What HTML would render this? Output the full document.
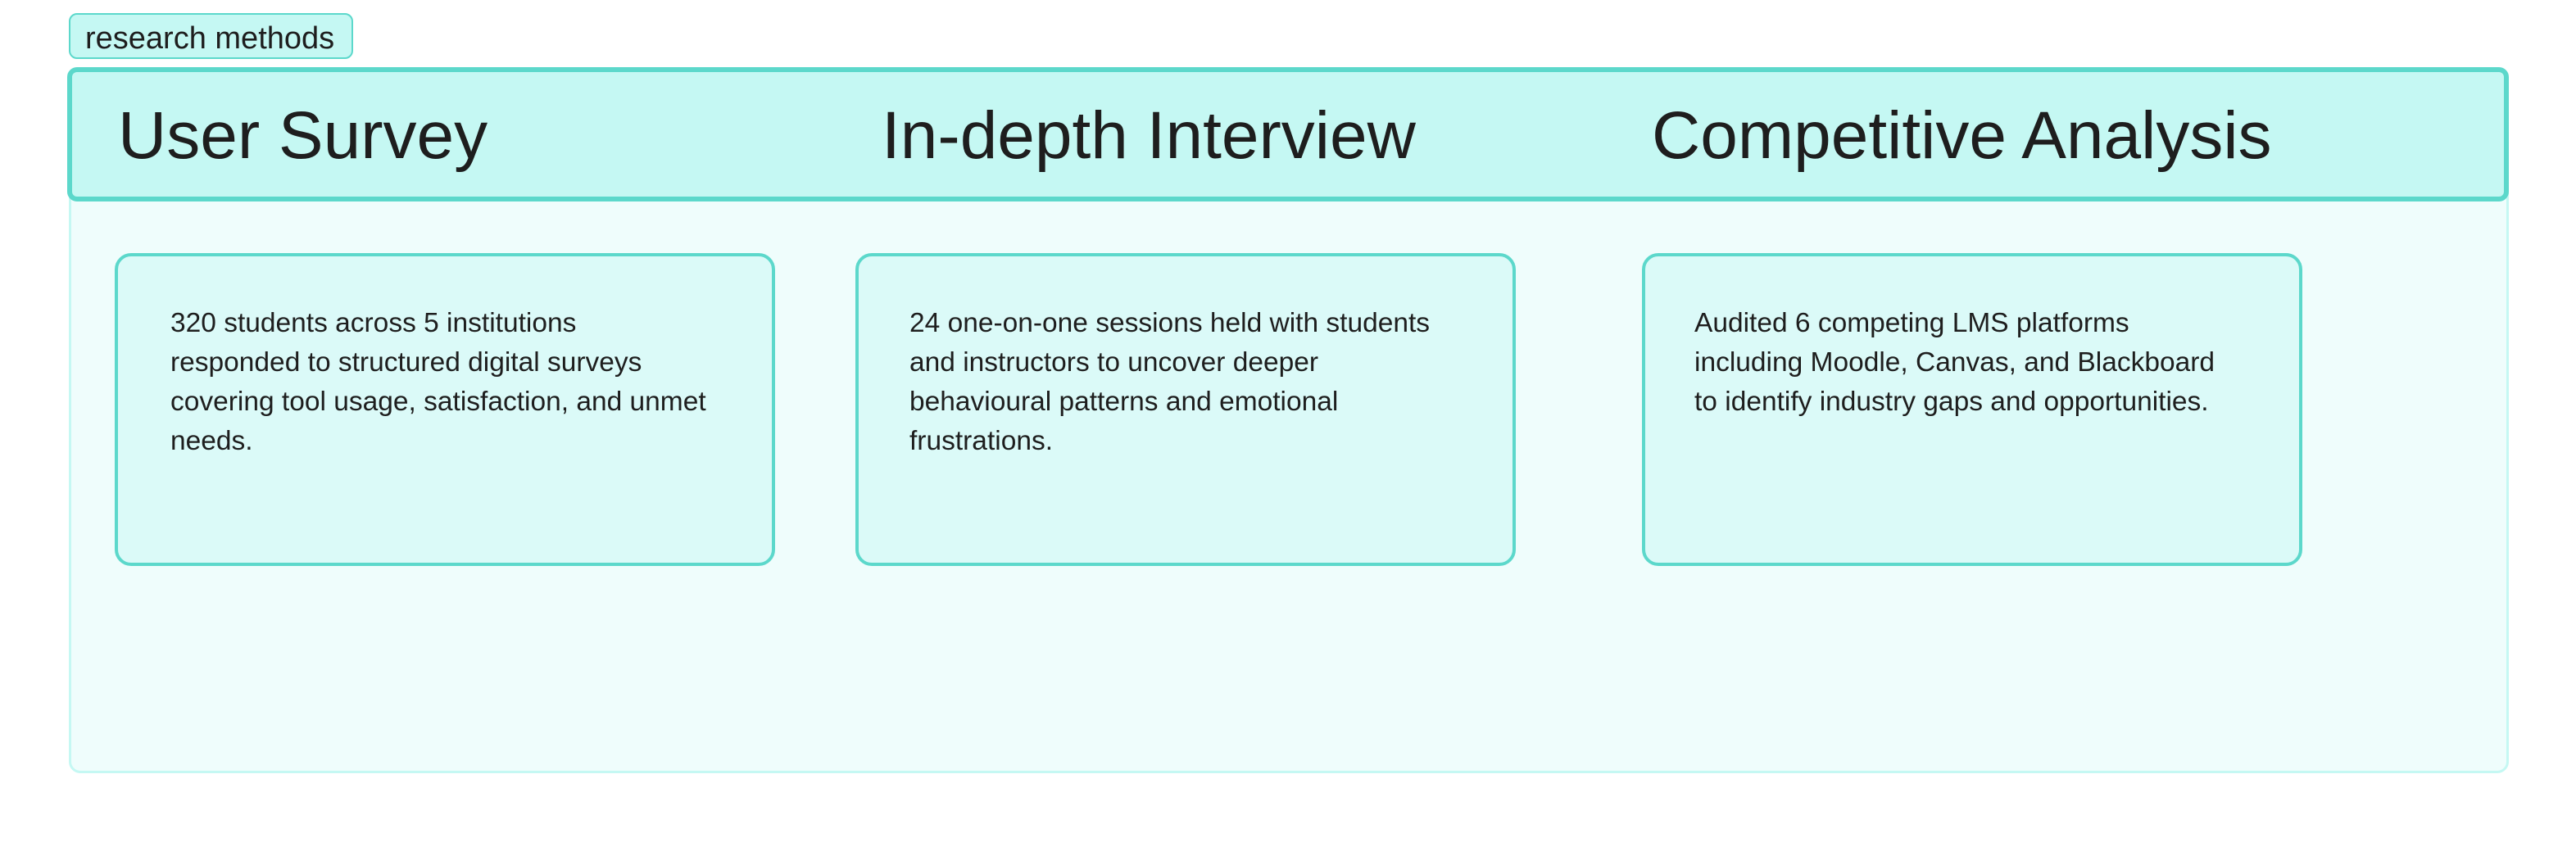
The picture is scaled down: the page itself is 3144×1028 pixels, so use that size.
<!DOCTYPE html>
<html><head><meta charset="utf-8"><style>
*{margin:0;padding:0;box-sizing:border-box}
body{width:3144px;height:1028px;background:#fff;position:relative;overflow:hidden;font-family:"Liberation Sans",sans-serif;color:#1e1e1e}
.tag{position:absolute;left:84px;top:16px;width:347px;height:56px;background:#c5f8f3;border:2px solid #5cd8cb;border-radius:10px;font-size:38px;line-height:58px;padding-left:18px}
.outer{position:absolute;left:84px;top:84px;width:2978px;height:860px;background:#effdfc;border:3px solid #c5f8f3;border-radius:14px}
.head{position:absolute;left:82px;top:82px;width:2980px;height:164px;background:#c5f8f3;border:6px solid #5cd8cb;border-radius:12px}
.t{position:absolute;top:116px;font-size:82px;line-height:100px}
.card{position:absolute;top:309px;width:806px;height:382px;background:#dbfaf8;border:4px solid #5cd8cb;border-radius:20px}
.b{position:absolute;top:371px;font-size:33.5px;line-height:48px;width:760px;white-space:nowrap}
</style></head><body>
<div class="tag">research methods</div>
<div class="outer"></div>
<div class="head"></div>
<div class="t" style="left:144px">User Survey</div>
<div class="t" style="left:1076px">In-depth Interview</div>
<div class="t" style="left:2016px">Competitive Analysis</div>
<div class="card" style="left:140px"></div>
<div class="card" style="left:1044px"></div>
<div class="card" style="left:2004px"></div>
<div class="b" style="left:208px">320 students across 5 institutions<br>responded to structured digital surveys<br>covering tool usage, satisfaction, and unmet<br>needs.</div>
<div class="b" style="left:1110px">24 one-on-one sessions held with students<br>and instructors to uncover deeper<br>behavioural patterns and emotional<br>frustrations.</div>
<div class="b" style="left:2068px">Audited 6 competing LMS platforms<br>including Moodle, Canvas, and Blackboard<br>to identify industry gaps and opportunities.</div>
</body></html>
